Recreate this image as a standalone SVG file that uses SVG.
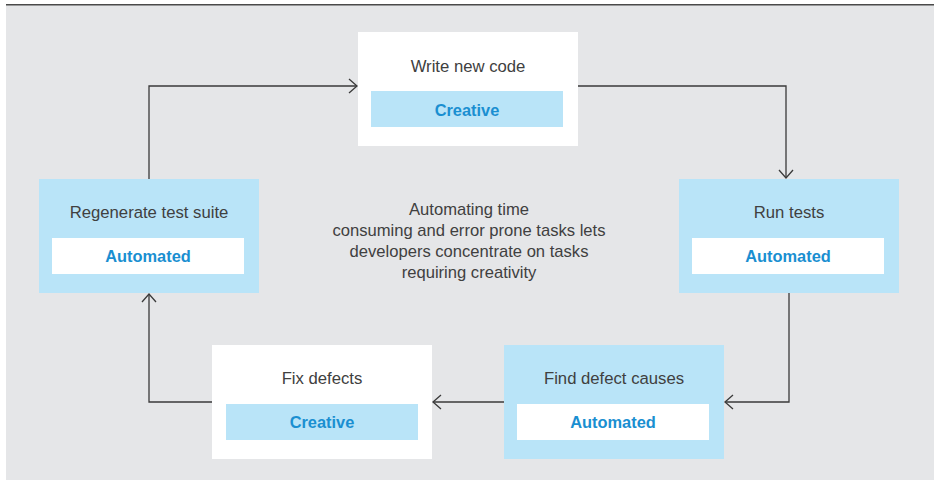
<svg xmlns="http://www.w3.org/2000/svg" width="936" height="480" viewBox="0 0 936 480">
<defs>
<style>
.title{font-family:"Liberation Sans",Arial,sans-serif;font-size:16.7px;fill:#404040;text-anchor:middle}
.tag{font-family:"Liberation Sans",Arial,sans-serif;font-size:16.4px;font-weight:bold;fill:#1a8fd1;text-anchor:middle}
.note{font-family:"Liberation Sans",Arial,sans-serif;font-size:16.6px;fill:#404040;text-anchor:middle}
.white{fill:#ffffff}
.blue{fill:#b9e4f8}
.conn{fill:none;stroke:#3a3a3a;stroke-width:1.3}
</style>
<marker id="arr" viewBox="0 0 10 16" refX="9" refY="8" markerWidth="10" markerHeight="16" markerUnits="userSpaceOnUse" orient="auto">
<path d="M1,1 L9,8 L1,15" fill="none" stroke="#3a3a3a" stroke-width="1.3"/>
</marker>
</defs>
<rect x="6" y="5" width="928" height="475" fill="#e5e6e8"/>
<line x1="6" y1="4.8" x2="934" y2="4.8" stroke="#4a4a4a" stroke-width="1.6"/>
<g id="connectors">
<path class="conn" d="M149,179 V86 H357" marker-end="url(#arr)"/>
<path class="conn" d="M578,86 H786 V178" marker-end="url(#arr)"/>
<path class="conn" d="M789,293 V402 H725" marker-end="url(#arr)"/>
<path class="conn" d="M504,402 H433" marker-end="url(#arr)"/>
<path class="conn" d="M212,402 H149 V294" marker-end="url(#arr)"/>
</g>
<g id="write-new-code">
<rect class="white" x="358" y="32" width="220" height="114"/>
<text class="title" x="468" y="72">Write new code</text>
<rect class="blue" x="371" y="91" width="192" height="36"/>
<text class="tag" x="467" y="116">Creative</text>
</g>
<g id="run-tests">
<rect class="blue" x="679" y="179" width="220" height="114"/>
<text class="title" x="789" y="218">Run tests</text>
<rect class="white" x="692" y="238" width="192" height="36"/>
<text class="tag" x="788" y="262">Automated</text>
</g>
<g id="find-defect-causes">
<rect class="blue" x="504" y="345" width="220" height="114"/>
<text class="title" x="614" y="384">Find defect causes</text>
<rect class="white" x="517" y="404" width="192" height="36"/>
<text class="tag" x="613" y="428">Automated</text>
</g>
<g id="fix-defects">
<rect class="white" x="212" y="345" width="220" height="114"/>
<text class="title" x="322" y="384">Fix defects</text>
<rect class="blue" x="226" y="404" width="192" height="36"/>
<text class="tag" x="322" y="428">Creative</text>
</g>
<g id="regenerate-test-suite">
<rect class="blue" x="39" y="179" width="220" height="114"/>
<text class="title" x="149" y="218">Regenerate test suite</text>
<rect class="white" x="52" y="238" width="192" height="36"/>
<text class="tag" x="148" y="262">Automated</text>
</g>
<g id="note">
<text class="note" x="469" y="215">Automating time</text>
<text class="note" x="469" y="236">consuming and error prone tasks lets</text>
<text class="note" x="469" y="257">developers concentrate on tasks</text>
<text class="note" x="469" y="278">requiring creativity</text>
</g>
</svg>
